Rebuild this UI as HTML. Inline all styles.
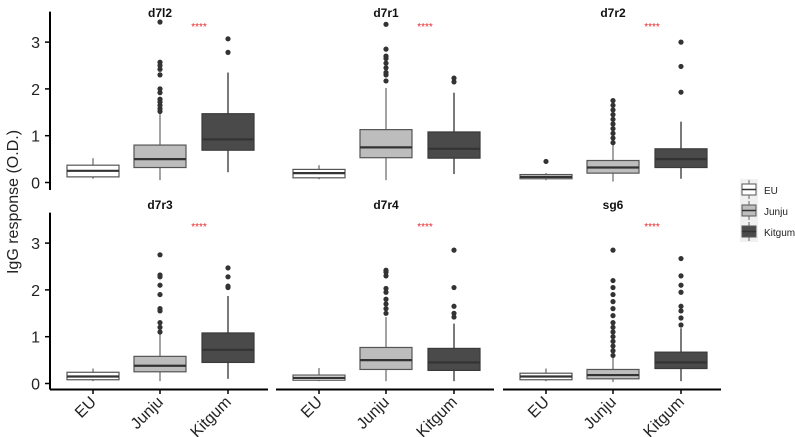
<!DOCTYPE html>
<html><head><meta charset="utf-8"><style>
body{margin:0;background:#fff;}
svg{display:block;font-family:"Liberation Sans",Arial,sans-serif;}
</style></head><body>
<svg id="chart" width="795" height="437"></svg>
<script>
const categories=["EU","Junju","Kitgum"];
const panelTitles=["d7l2","d7r1","d7r2","d7r3","d7r4","sg6"];
const yTicks=[0,1,2,3];
const fills=["#ffffff","#bdbdbd","#4a4a4a"];
// each entry: [median,q1,q3,whiskerLow,whiskerHigh]
const statsEU=[[0.25,0.12,0.37,0.08,0.52],[0.2,0.1,0.28,0.07,0.37],[0.12,0.08,0.17,0.05,0.2],[0.15,0.08,0.24,0.05,0.32],[0.12,0.07,0.18,0.05,0.33],[0.15,0.08,0.22,0.05,0.32]];
const statsJunju=[[0.5,0.32,0.8,0.05,1.5],[0.75,0.53,1.13,0.05,2.02],[0.32,0.2,0.47,0.02,0.8],[0.38,0.25,0.58,0.05,1.05],[0.5,0.3,0.77,0.05,1.42],[0.18,0.1,0.3,0.03,0.55]];
const statsKitgum=[[0.92,0.69,1.47,0.22,2.35],[0.72,0.52,1.08,0.18,1.92],[0.5,0.32,0.72,0.08,1.3],[0.72,0.45,1.08,0.1,1.87],[0.45,0.28,0.75,0.05,1.28],[0.45,0.32,0.67,0.05,1.18]];
const outEU=[[],[],[0.45],[],[],[]];
const outJunju=[[1.52,1.58,1.65,1.72,1.78,1.92,2.0,2.3,2.42,2.5,2.57,3.43],[2.17,2.3,2.35,2.45,2.55,2.65,2.7,2.85,3.38],[0.85,0.95,1.05,1.15,1.25,1.35,1.45,1.55,1.65,1.75],[1.1,1.2,1.3,1.55,1.6,1.9,2.1,2.28,2.32,2.75],[1.5,1.6,1.7,1.8,1.95,2.03,2.3,2.38,2.42],[0.6,0.7,0.8,0.9,1.0,1.1,1.2,1.3,1.45,1.6,1.75,1.9,2.05,2.2,2.85]];
const outKitgum=[[2.78,3.07],[2.15,2.23],[1.93,2.48,3.0],[2.05,2.08,2.28,2.47],[1.42,1.5,1.65,2.05,2.85],[1.25,1.4,1.55,1.65,1.95,2.1,2.3,2.67]];
const sigLabel="****";

const svg=document.getElementById('chart');
const NS="http://www.w3.org/2000/svg";
function mk(tag,attrs,parent){const e=document.createElementNS(NS,tag);for(const k in attrs)e.setAttribute(k,attrs[k]);(parent||svg).appendChild(e);return e;}
const panelLeft=[50,276,503], panelW=218;
const zeroY=[182.5,383.5], pxPerUnit=46.8;
const catOff=[43,110,178], boxW=52;
function yScale(row,v){return zeroY[row]-v*pxPerUnit;}
function xScale(col,ci){return panelLeft[col]+catOff[ci];}
const allStats=[statsEU,statsJunju,statsKitgum], allOut=[outEU,outJunju,outKitgum];

for(let p=0;p<6;p++){
  const row=Math.floor(p/3), col=p%3;
  const g=mk('g',{});
  
  
  const t=mk('text',{x:panelLeft[col]+110,y:row?209:17,'text-anchor':'middle','font-size':12,'font-weight':'bold',fill:'#111'},g);
  t.textContent=panelTitles[p];
  
  
  const s=mk('text',{x:panelLeft[col]+149,y:(row?230:30),'text-anchor':'middle','font-size':10,fill:'#e8262b'},g);
  s.textContent=sigLabel;
  
  
  if(col===0){
    const ax=mk('line',{x1:50,x2:50,y1:yScale(row,3.65),y2:row?389.5:190,stroke:'#000','stroke-width':2},g);
    
    
    yTicks.forEach(v=>{
      mk('line',{x1:45,x2:50,y1:yScale(row,v),y2:yScale(row,v),stroke:'#000','stroke-width':1.5},g);
      const tl=mk('text',{x:40,y:yScale(row,v)+6,'text-anchor':'end','font-size':16,fill:'#222'},g);
      tl.textContent=v;
      
      
    });
  }
  if(row===1){
    const xa=mk('line',{x1:panelLeft[col],x2:panelLeft[col]+panelW,y1:389.5,y2:389.5,stroke:'#000','stroke-width':2},g);
    
    
  }
  for(let c=0;c<3;c++){
    const [med,q1,q3,lo,hi]=allStats[c][p];
    const cx=xScale(col,c);
    const bg=mk('g',{},g);
    
    
    const wc=c===2?'#222':'#666';
    mk('line',{x1:cx,x2:cx,y1:yScale(row,hi),y2:yScale(row,lo),stroke:wc,'stroke-width':1.2},bg);
    mk('rect',{x:cx-boxW/2,y:yScale(row,q3),width:boxW,height:yScale(row,q1)-yScale(row,q3),fill:fills[c],stroke:c===2?'#3a3a3a':'#555','stroke-width':1.2},bg);
    mk('line',{x1:cx-boxW/2,x2:cx+boxW/2,y1:yScale(row,med),y2:yScale(row,med),stroke:'#333','stroke-width':2.2},bg);
    allOut[c][p].forEach(v=>{
      const o=mk('circle',{cx:cx,cy:yScale(row,v),r:2.6,fill:'#333'},bg);
      
      
    });
    if(row===1){
      mk('line',{x1:cx,x2:cx,y1:389,y2:394,stroke:'#000','stroke-width':1.5},g);
      const xl=mk('text',{x:cx+4,y:403,'text-anchor':'end','font-size':16,fill:'#222',transform:`rotate(-45 ${cx+4} 403)`},g);
      xl.textContent=categories[c];
      
      
    }
  }
}
const yl=mk('text',{x:0,y:0,'text-anchor':'middle','font-size':16,fill:'#222',transform:'translate(18 202) rotate(-90)'});
yl.textContent="IgG response (O.D.)";


const lg=mk('g',{});


categories.forEach((c,i)=>{
  const y=183+i*21;
  const e=mk('g',{},lg);
  
  
  mk('rect',{x:740,y:y-4,width:18,height:21,fill:'#f0f0f0'},e);
  mk('line',{x1:749,x2:749,y1:y-3,y2:y+16,stroke:'#666','stroke-width':1},e);
  mk('rect',{x:742,y:y+1,width:14,height:11,fill:fills[i],stroke:'#555','stroke-width':1},e);
  mk('line',{x1:742,x2:756,y1:y+6.5,y2:y+6.5,stroke:'#333','stroke-width':1.5},e);
  const tx=mk('text',{x:764,y:y+11,'font-size':10,fill:'#222'},e);
  tx.textContent=c;
});
</script>
</body></html>
